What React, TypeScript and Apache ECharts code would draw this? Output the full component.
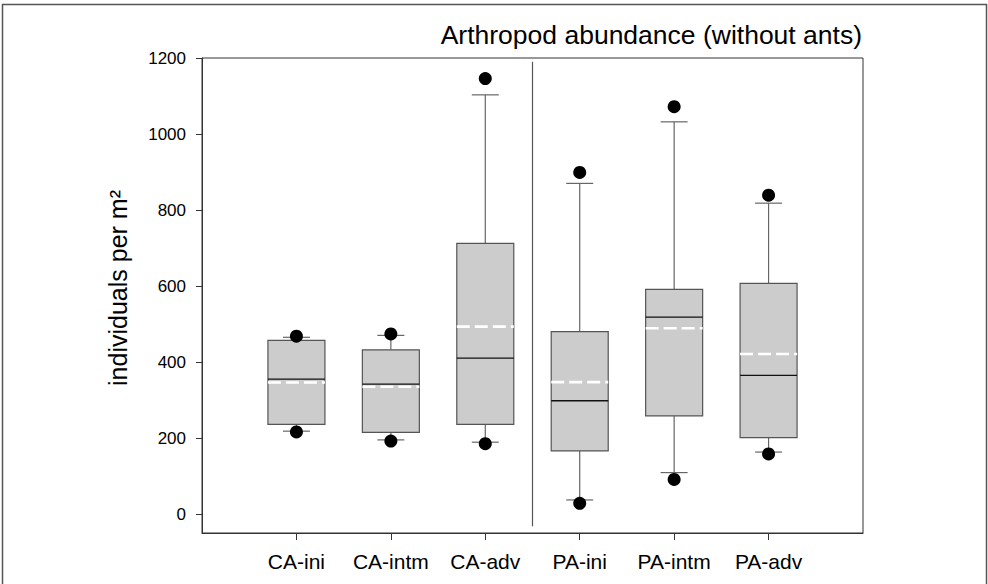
import React, { useEffect, useRef } from "react";
import * as echarts from "echarts";

const categories = ["CA-ini", "CA-intm", "CA-adv", "PA-ini", "PA-intm", "PA-adv"];
const whiskerLow = [218, 195, 189, 37, 109, 163];
const q1 = [236, 215, 236, 166, 258, 201];
const median = [355, 342, 410, 298, 518, 365];
const q3 = [457, 432, 712, 480, 591, 607];
const whiskerHigh = [465, 470, 1103, 870, 1032, 818];
const mean = [346, 335, 493, 347, 489, 421];
const outlierLow = [216, 192, 185, 28, 91, 158];
const outlierHigh = [468, 474, 1146, 899, 1072, 839];
const yTicks = [0, 200, 400, 600, 800, 1000, 1200];
const separator = [
  [3.5, 1190],
  [3.5, -32],
];

const FONT = "'Liberation Sans', Arial, sans-serif";

export default function App() {
  const ref = useRef<HTMLDivElement>(null);
  useEffect(() => {
    if (!ref.current) return;
    const chart = echarts.init(ref.current, null, { renderer: "svg" });
    const boxData = categories.map((_, i) => [
      i + 1,
      whiskerLow[i],
      q1[i],
      median[i],
      q3[i],
      whiskerHigh[i],
      mean[i],
    ]);
    const dots: number[][] = [];
    categories.forEach((_, i) => {
      dots.push([i + 1, outlierLow[i]]);
      dots.push([i + 1, outlierHigh[i]]);
    });
    const boxW = 57;
    const capW = 27;
    chart.setOption({
      animation: false,
      backgroundColor: "#ffffff",
      textStyle: { fontFamily: FONT },
      grid: {
        left: 202,
        top: 58,
        width: 661,
        height: 475,
        show: true,
        borderColor: "#333",
        borderWidth: 1,
        backgroundColor: "transparent",
      },
      xAxis: {
        type: "value",
        min: 0,
        max: 7,
        axisLine: { show: true, onZero: false, lineStyle: { color: "#333", width: 1 } },
        axisTick: {
          show: true,
          length: 7,
          customValues: [1, 2, 3, 4, 5, 6],
          lineStyle: { color: "#333", width: 1 },
        },
        axisLabel: {
          customValues: [1, 2, 3, 4, 5, 6],
          formatter: (v: number) => categories[Math.round(v) - 1] ?? "",
          fontSize: 21,
          color: "#000",
          margin: 18,
          fontFamily: FONT,
        },
        splitLine: { show: false },
      },
      yAxis: {
        type: "value",
        min: -50,
        max: 1200,
        axisLine: { show: true, lineStyle: { color: "#333", width: 1 } },
        axisTick: {
          show: true,
          length: 6,
          customValues: yTicks,
          lineStyle: { color: "#333", width: 1 },
        },
        axisLabel: {
          customValues: yTicks,
          formatter: (v: number) => String(v),
          fontSize: 17,
          color: "#000",
          margin: 16,
          fontFamily: FONT,
        },
        splitLine: { show: false },
      },
      graphic: [
        {
          type: "rect",
          shape: { x: 2.5, y: 4.5, width: 984, height: 600 },
          style: { fill: "none", stroke: "#555", lineWidth: 1.5 },
          silent: true,
          z: 100,
        },
        {
          type: "text",
          x: 862,
          y: 35,
          style: {
            text: "Arthropod abundance (without ants)",
            fontSize: 26.5,
            fontFamily: FONT,
            fill: "#000",
            textAlign: "right",
            textVerticalAlign: "middle",
          },
        },
        {
          type: "text",
          x: 118,
          y: 288,
          rotation: Math.PI / 2,
          style: {
            text: "individuals per m²",
            fontSize: 25,
            fontFamily: FONT,
            fill: "#000",
            textAlign: "center",
            textVerticalAlign: "middle",
          },
        },
      ],
      series: [
        {
          type: "line",
          data: separator,
          symbol: "none",
          lineStyle: { color: "#555", width: 1.2 },
          silent: true,
          z: 1,
        },
        {
          type: "custom",
          data: boxData,
          encode: { x: 0, y: [1, 2, 3, 4, 5] },
          z: 2,
          renderItem: (params: any, api: any) => {
            const x = api.value(0);
            const pLow = api.coord([x, api.value(1)]);
            const pQ1 = api.coord([x, api.value(2)]);
            const pMed = api.coord([x, api.value(3)]);
            const pQ3 = api.coord([x, api.value(4)]);
            const pHigh = api.coord([x, api.value(5)]);
            const pMean = api.coord([x, api.value(6)]);
            const cx = pQ1[0];
            const wStyle = { stroke: "#666", lineWidth: 1.2 };
            return {
              type: "group",
              children: [
                { type: "line", shape: { x1: cx, y1: pQ3[1], x2: cx, y2: pHigh[1] }, style: wStyle },
                { type: "line", shape: { x1: cx, y1: pQ1[1], x2: cx, y2: pLow[1] }, style: wStyle },
                { type: "line", shape: { x1: cx - capW / 2, y1: pHigh[1], x2: cx + capW / 2, y2: pHigh[1] }, style: wStyle },
                { type: "line", shape: { x1: cx - capW / 2, y1: pLow[1], x2: cx + capW / 2, y2: pLow[1] }, style: wStyle },
                {
                  type: "rect",
                  shape: { x: cx - boxW / 2, y: pQ3[1], width: boxW, height: pQ1[1] - pQ3[1] },
                  style: { fill: "#cccccc", stroke: "#555", lineWidth: 1.2 },
                },
                {
                  type: "line",
                  shape: { x1: cx - boxW / 2, y1: pMed[1], x2: cx + boxW / 2, y2: pMed[1] },
                  style: { stroke: "#111", lineWidth: 1.3 },
                },
                {
                  type: "line",
                  shape: { x1: cx - boxW / 2, y1: pMean[1], x2: cx + boxW / 2, y2: pMean[1] },
                  style: { stroke: "#ffffff", lineWidth: 2.6, lineDash: [13, 5] },
                },
              ],
            };
          },
        },
        {
          type: "scatter",
          data: dots,
          symbol: "circle",
          symbolSize: 13,
          itemStyle: { color: "#000", opacity: 1 },
          z: 3,
        },
      ],
    });
    return () => chart.dispose();
  }, []);
  return (
    <div
      ref={ref}
      style={{ position: "absolute", left: 0, top: 0, width: 988, height: 584, background: "#fff" }}
    />
  );
}
